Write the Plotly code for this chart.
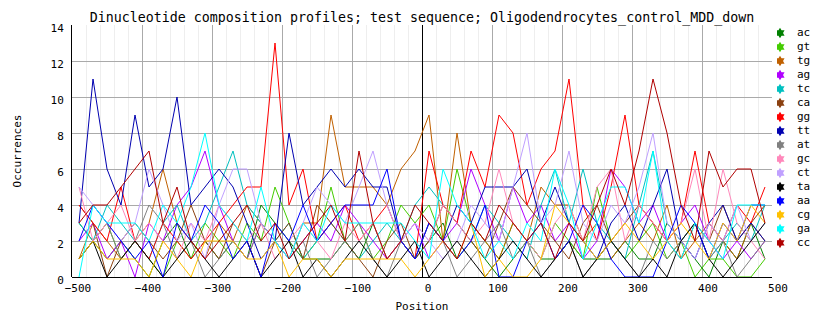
import plotly.graph_objects as go

positions = list(range(-490, 491, 20))

ac = [3,2,1,2,1,0,2,3,1,2,1,2,1,4,3,2,1,1,1,2,1,3,1,2,1,2,3,1,2,1,0,1,2,1,1,2,1,1,1,2,1,1,3,2,1,0,2,1,3,1]
gt = [1,2,3,1,2,1,0,2,1,3,2,1,3,2,5,3,1,2,5,2,3,1,2,4,3,4,2,6,3,2,1,3,2,1,3,2,1,5,2,1,2,3,1,2,0,1,1,0,0,1]
tg = [1,3,2,1,2,3,6,3,2,1,3,2,4,3,2,1,3,3,9,5,5,5,4,6,7,9,2,8,3,2,1,3,2,5,4,4,2,3,1,2,3,2,4,1,2,3,2,1,3,2]
ag = [2,3,1,2,0,3,2,4,5,7,4,2,1,3,2,1,2,3,2,4,3,2,1,2,3,1,2,3,6,4,2,5,3,4,2,3,1,2,6,5,3,4,2,3,4,2,1,2,1,2]
tc = [3,2,4,3,2,1,3,4,2,3,5,7,4,3,2,3,1,2,3,2,1,2,3,2,4,5,4,3,2,4,3,2,1,4,6,3,6,3,2,1,4,7,3,2,3,1,2,3,2,4]
ca = [4,3,0,2,3,2,1,2,4,2,1,3,2,0,2,3,1,4,3,2,1,0,2,3,1,2,4,3,2,1,3,5,4,3,2,1,3,4,2,3,4,3,2,1,3,2,4,2,3,4]
gg = [4,3,2,5,2,1,3,2,1,2,3,4,5,5,13,4,6,2,3,4,2,3,4,2,1,7,4,3,7,5,9,8,4,6,7,11,4,2,5,9,4,3,2,3,7,3,2,4,3,5]
tt = [3,11,6,4,9,5,6,10,4,5,6,5,3,1,2,8,4,5,6,5,6,5,5,2,1,3,2,4,3,5,5,5,6,3,5,3,2,1,3,4,2,4,6,2,1,3,4,2,3,2]
at = [1,2,3,1,2,4,3,1,2,0,1,2,1,3,2,1,2,0,1,2,3,1,0,2,1,3,2,0,1,2,3,1,2,0,1,2,0,1,2,1,0,2,1,2,3,1,2,0,1,2]
gc = [5,2,3,4,2,3,2,1,3,2,4,3,2,3,1,2,3,2,1,3,2,3,1,2,3,2,4,3,2,3,6,3,2,1,3,4,2,5,6,2,4,3,2,3,6,2,6,3,2,1]
ct = [5,4,3,2,3,6,4,2,3,1,4,6,6,3,2,1,3,5,4,3,5,7,4,2,3,2,1,2,4,3,2,5,8,3,4,7,3,2,4,3,5,8,3,2,1,3,2,4,2,3]
ta = [1,2,0,1,2,1,0,1,2,1,0,1,2,0,1,2,0,1,0,1,2,1,0,1,2,0,1,2,1,0,1,2,1,0,1,2,0,1,2,1,0,1,0,2,3,1,0,1,2,3]
aa = [2,4,3,2,1,2,0,3,2,4,3,1,2,0,3,2,4,2,3,4,4,4,6,2,1,3,2,1,2,4,0,0,2,3,1,2,4,3,1,0,0,0,2,4,3,1,3,2,4,4]
cg = [1,2,1,1,1,0,2,1,0,2,2,2,1,1,2,0,1,1,0,1,1,1,1,1,0,1,2,1,3,0,1,0,0,1,4,3,2,1,2,3,2,1,2,3,2,1,3,2,4,3]
ga = [0,4,3,3,3,2,4,3,5,8,4,3,2,5,2,1,3,2,4,3,3,3,3,3,2,1,6,4,3,1,2,1,3,2,6,4,1,3,5,5,3,7,2,1,3,2,1,4,4,4]
cc = [3,4,4,5,6,7,3,5,2,1,2,3,4,2,3,1,2,3,4,2,7,3,1,2,4,3,2,1,3,2,4,3,2,3,1,3,2,4,6,4,7,11,8,4,2,7,5,6,6,3]

series_names = ["ac","gt","tg","ag","tc","ca","gg","tt","at","gc","ct","ta","aa","cg","ga","cc"]
series_values = [ac,gt,tg,ag,tc,ca,gg,tt,at,gc,ct,ta,aa,cg,ga,cc]
series_colors = ["#008000","#44cc00","#c06000","#b000ff","#00c0c0","#8b4010","#ff0000","#0000b0",
                 "#808080","#ff88bb","#c0a0ff","#000000","#0000ff","#ffc000","#00ffff","#b00000"]

MONO = "DejaVu Sans Mono, Liberation Mono, monospace"

fig = go.Figure()
for name, vals, col in zip(series_names, series_values, series_colors):
    fig.add_trace(go.Scatter(x=positions, y=vals, mode="lines", name=name,
                             line=dict(color=col, width=1), showlegend=False,
                             xaxis="x", yaxis="y"))

# custom legend on an overlay axis
idx = list(range(len(series_names)))
fig.add_trace(go.Scatter(x=[3]*len(idx), y=idx, mode="markers",
                         marker=dict(symbol="hexagram", size=8, color=series_colors),
                         showlegend=False, hoverinfo="skip", xaxis="x2", yaxis="y2"))
fig.add_trace(go.Scatter(x=[20]*len(idx), y=idx, mode="text", text=series_names,
                         textposition="middle right",
                         textfont=dict(family=MONO, size=11, color="black"),
                         showlegend=False, hoverinfo="skip", xaxis="x2", yaxis="y2"))

L, PW = 72, 700
W = 834
fig.update_layout(
    width=W, height=328,
    margin=dict(l=L, r=0, t=25, b=51, autoexpand=False),
    paper_bgcolor="white", plot_bgcolor="white",
    title=dict(text="Dinucleotide composition profiles; test sequence; Oligodendrocytes_control_MDD_down",
               x=(L + PW/2)/W, xanchor="center", y=1-17/328, yanchor="middle",
               font=dict(family=MONO, size=13.3, color="black")),
    xaxis=dict(domain=[0, PW/(W-L)], range=[-500, 500], dtick=100, tick0=0,
               showgrid=True, gridcolor="#aaaaaa", gridwidth=1,
               minor=dict(dtick=20, showgrid=True, gridcolor="#eeeeee", gridwidth=1),
               zeroline=True, zerolinecolor="black", zerolinewidth=1,
               showline=False, ticks="", ticklabelstandoff=3, ticklabelshift=6,
               tickfont=dict(family=MONO, size=11, color="black"),
               title=dict(text="Position", font=dict(family=MONO, size=11, color="black"), standoff=8)),
    yaxis=dict(range=[0, 14], dtick=2, showgrid=True, gridcolor="#aaaaaa", gridwidth=1,
               zeroline=True, zerolinecolor="black", zerolinewidth=1,
               showline=True, linecolor="black", linewidth=1, ticks="",
               ticklabelstandoff=5, ticklabelshift=3,
               tickfont=dict(family=MONO, size=11, color="black"),
               title=dict(text="Occurrences", font=dict(family=MONO, size=11, color="black"), standoff=26)),
    xaxis2=dict(domain=[(777-L)/(W-L), 1], range=[0, 57], visible=False, anchor="y2"),
    yaxis2=dict(domain=[0, 1], range=[17.43, -0.571], visible=False, anchor="x2"),
)

fig.write_html("out.html")
